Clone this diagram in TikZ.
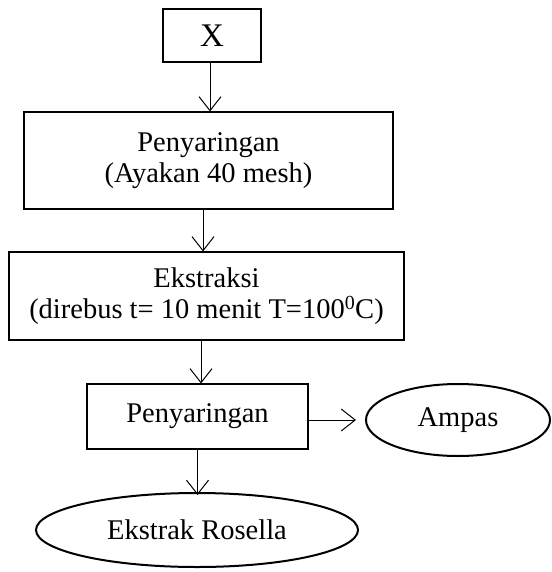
\documentclass[tikz,border=0pt]{standalone}
\usepackage{fontspec}
\setmainfont{Liberation Serif}
\usetikzlibrary{arrows.meta,shapes.geometric}
\begin{document}
\begin{tikzpicture}[x=1pt,y=-1pt,
  box/.style={draw, line width=1.1pt, inner sep=0pt, align=center,
    font=\fontsize{28.5}{30.5}\selectfont},
  oval/.style={draw, ellipse, line width=2pt, inner sep=0pt,
    font=\fontsize{28.5}{30.5}\selectfont},
  arr/.style={line width=1pt, -{Straight Barb[length=14pt,width=22pt,line width=1pt]}}]
\useasboundingbox (0,0) rectangle (551,572);
\node[box, minimum width=98pt, minimum height=53pt, font=\fontsize{33}{36}\selectfont] (A) at (212,35.5) {X};
\node[box, minimum width=369pt, minimum height=97pt] (B) at (208.5,160.5) {Penyaringan\\(Ayakan 40 mesh)};
\node[box, minimum width=395pt, minimum height=88pt] (C) at (206.5,296) {Ekstraksi\\(direbus t= 10 menit T=100\textsuperscript{0}C)};
\node[box, minimum width=221pt, minimum height=65pt] (D) at (197.5,416.5) {Penyaringan};
\node[oval, minimum width=184pt, minimum height=72pt] (E) at (458,420) {Ampas};
\node[oval, minimum width=322pt, minimum height=74pt] (F) at (197,530) {Ekstrak Rosella};
\draw[arr] ([xshift=-2pt]A.south) -- ([xshift=-2pt]A.south |- B.north);
\draw[arr] ([xshift=-5.5pt]B.south) -- ([xshift=-5.5pt]B.south |- C.north);
\draw[arr] ([xshift=-5.5pt]C.south) -- ([xshift=-5.5pt]C.south |- D.north);
\draw[arr] (D.east |- E.west) -- ([xshift=-9pt]E.west);
\draw[arr] (D.south) -- ([yshift=-3pt]D.south |- F.north);
\end{tikzpicture}
\end{document}
